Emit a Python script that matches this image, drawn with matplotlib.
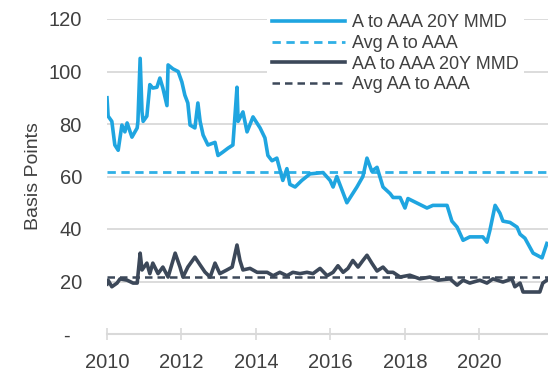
import matplotlib
matplotlib.use("Agg")
import matplotlib.pyplot as plt

plt.rcParams['font.family'] = ['Liberation Sans', 'DejaVu Sans']

# A to AAA 20Y MMD spread (decimal year, basis points)
a_years = [2010.00, 2010.03, 2010.13, 2010.21, 2010.30, 2010.40, 2010.48, 2010.54, 2010.67,
           2010.81, 2010.83, 2010.89, 2010.94, 2010.97, 2011.07, 2011.15, 2011.23, 2011.34,
           2011.42, 2011.50, 2011.61, 2011.64, 2011.77, 2011.91, 2012.01, 2012.09, 2012.17,
           2012.23, 2012.36, 2012.44, 2012.50, 2012.58, 2012.71, 2012.90, 2012.98, 2013.11,
           2013.25, 2013.38, 2013.49, 2013.52, 2013.65, 2013.76, 2013.92, 2014.11, 2014.24,
           2014.32, 2014.43, 2014.56, 2014.72, 2014.83, 2014.91, 2015.05, 2015.23, 2015.45,
           2015.80, 2015.99, 2016.07, 2016.17, 2016.44, 2016.71, 2016.87, 2016.98, 2017.11,
           2017.25, 2017.41, 2017.60, 2017.68, 2017.87, 2018.00, 2018.08, 2018.59, 2018.75,
           2019.13, 2019.26, 2019.40, 2019.56, 2019.74, 2020.09, 2020.20, 2020.28, 2020.42,
           2020.55, 2020.63, 2020.82, 2021.01, 2021.09, 2021.22, 2021.44, 2021.68, 2021.81]
a_spread = [90, 83, 81, 72, 70, 79.6, 77, 80.4, 75,
            78.5, 81, 105, 84.6, 81, 83, 95, 93.7, 94,
            97.5, 93.7, 87, 102.5, 101, 100, 96, 91, 88,
            79.6, 78.5, 88, 81, 75.8, 72, 73, 68, 69.3,
            70.8, 72, 94, 81, 84.6, 77, 82.7, 78.5, 74.7,
            68, 66, 67, 58.5, 63, 57, 56, 58.5, 61,
            61.5, 58.5, 56, 60, 50, 56, 60, 67, 62,
            63.5, 56, 53.5, 52, 52, 48, 51.6, 48, 49,
            49, 43, 40.7, 35.7, 37, 37, 35, 39.5, 49,
            46, 43, 42.5, 40.7, 38, 36.5, 30.8, 29, 34.5]

# AA to AAA 20Y MMD spread (decimal year, basis points)
aa_years = [2010.00, 2010.03, 2010.13, 2010.27, 2010.35, 2010.54, 2010.70, 2010.81, 2010.89,
            2010.94, 2011.07, 2011.15, 2011.23, 2011.37, 2011.50, 2011.64, 2011.83, 2011.96,
            2012.04, 2012.17, 2012.36, 2012.50, 2012.63, 2012.77, 2012.90, 2013.03, 2013.22,
            2013.36, 2013.49, 2013.57, 2013.65, 2013.84, 2014.03, 2014.30, 2014.46, 2014.64,
            2014.83, 2014.99, 2015.18, 2015.37, 2015.53, 2015.72, 2015.91, 2016.07, 2016.20,
            2016.34, 2016.47, 2016.60, 2016.74, 2016.87, 2016.98, 2017.11, 2017.25, 2017.41,
            2017.54, 2017.68, 2017.87, 2018.13, 2018.40, 2018.67, 2018.89, 2019.21, 2019.40,
            2019.56, 2019.74, 2020.01, 2020.20, 2020.36, 2020.63, 2020.87, 2020.95, 2021.09,
            2021.17, 2021.44, 2021.62, 2021.70, 2021.81]
aa_spread = [19, 20.5, 18, 19.4, 21, 20.5, 19.4, 19.4, 30.8,
             24.4, 27, 23, 27, 23, 25.5, 21.7, 30.8, 25.5,
             21.7, 25.5, 29.3, 26.3, 23.6, 21.7, 27, 23, 24.4,
             25.5, 33.9, 28, 24.4, 25, 23.5, 23.5, 22.2, 23.5,
             22.2, 23.5, 23, 23.5, 23, 25, 22.2, 23.5, 26,
             23.5, 25, 28, 25.5, 28, 30, 27, 24, 25.5,
             23.5, 23.5, 21.7, 22.4, 21, 21.7, 20.5, 21, 18.6,
             20.5, 19.4, 20.5, 19.4, 21, 19.8, 21, 18, 19.4,
             16, 16, 16, 19.4, 20.5]

avg_a = 61.7
avg_aa = 21.7

x_ticks = [2010, 2012, 2014, 2016, 2018, 2020]
y_ticks = [0, 20, 40, 60, 80, 100, 120]
y_labels = ['-  ', '20', '40', '60', '80', '100', '120']

BLUE = '#1fa5e0'
BLUE_AVG = '#2fb0e6'
SLATE = '#3c4859'
GRID = '#d9d9d9'
TEXT = '#404040'

fig = plt.figure(figsize=(5.48, 3.75), dpi=100)
ax = fig.add_axes([107 / 548, 41 / 375, 441 / 548, 315 / 375])

ax.plot(a_years, a_spread, color=BLUE, lw=2.6, label='A to AAA 20Y MMD', zorder=4)
ax.axhline(avg_a, color=BLUE_AVG, lw=2.0, ls=(0, (3, 2)), label='Avg A to AAA', zorder=3)
ax.plot(aa_years, aa_spread, color=SLATE, lw=2.6, label='AA to AAA 20Y MMD', zorder=4)
ax.axhline(avg_aa, color=SLATE, lw=1.8, ls=(0, (3, 2)), label='Avg AA to AAA', zorder=3)

ax.set_xlim(2010, 2021.84)
ax.set_ylim(0, 120)

ax.set_yticks(y_ticks)
ax.set_yticklabels(y_labels)
ax.set_xticks(x_ticks)
ax.set_xticklabels([str(t) for t in x_ticks])

ax.grid(axis='y', color=GRID, lw=1.3, zorder=0)
ax.set_axisbelow(True)
for side in ['top', 'right', 'left']:
    ax.spines[side].set_visible(False)
ax.spines['bottom'].set_color(GRID)
ax.spines['bottom'].set_linewidth(1.5)

ax.tick_params(axis='y', length=0, pad=18, labelsize=14.5, labelcolor=TEXT)
ax.tick_params(axis='x', direction='inout', length=8, width=1.2, color=GRID,
               pad=10, labelsize=14.5, labelcolor=TEXT)

ax.set_ylabel('Basis Points', fontsize=14, color=TEXT, labelpad=5)

leg = ax.legend(loc='upper left', bbox_to_anchor=(258 / 548, 1.0), bbox_transform=fig.transFigure,
                frameon=True, fontsize=13, handlelength=4.0, handletextpad=0.4,
                labelspacing=0.2, borderpad=0.3)
leg.get_frame().set_facecolor('white')
leg.get_frame().set_edgecolor('none')
leg.get_frame().set_alpha(1.0)
for t in leg.get_texts():
    t.set_color(TEXT)

fig.savefig('out.png', dpi=100)
